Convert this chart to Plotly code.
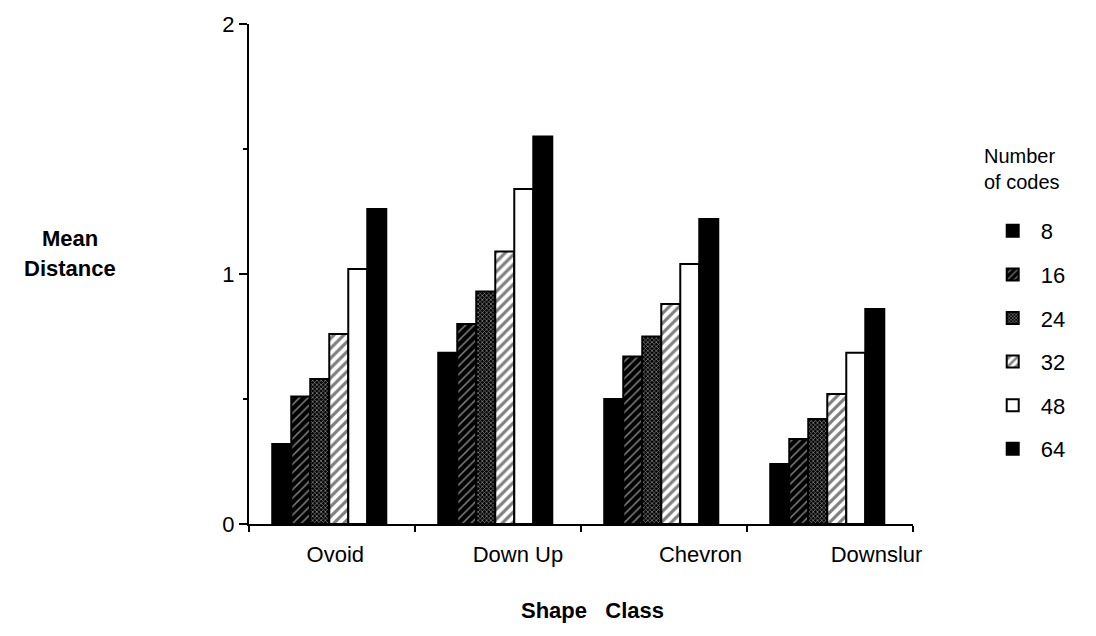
import plotly.graph_objects as go

# Mean distance by shape class and number of codes
categories = ["Ovoid", "Down Up", "Chevron", "Downslur"]
codes = ["8", "16", "24", "32", "48", "64"]
dist_8 = [0.32, 0.685, 0.50, 0.24]
dist_16 = [0.51, 0.80, 0.67, 0.34]
dist_24 = [0.58, 0.93, 0.75, 0.42]
dist_32 = [0.76, 1.09, 0.88, 0.52]
dist_48 = [1.02, 1.34, 1.04, 0.685]
dist_64 = [1.26, 1.55, 1.22, 0.86]
series = [dist_8, dist_16, dist_24, dist_32, dist_48, dist_64]

FONT = "Liberation Sans, Arial, Helvetica, sans-serif"
FS = 22

# fill style per series: (marker colour, pattern dict or None)
styles = [
    ("black", None),
    ("black", dict(shape="/", bgcolor="black", fgcolor="white", size=6, solidity=0.25)),
    ("black", dict(shape="x", bgcolor="black", fgcolor="white", size=3, solidity=0.45)),
    ("white", dict(shape="/", bgcolor="white", fgcolor="black", size=7, solidity=0.45)),
    ("white", None),
    ("black", None),
]

slot_left = 0.14   # gap from category boundary to first bar
bar_w = 0.1145     # width of one bar in category units

fig = go.Figure()
for i, (code, vals) in enumerate(zip(codes, series)):
    color, pattern = styles[i]
    xs = [g + slot_left + (i + 0.5) * bar_w for g in range(len(categories))]
    marker = dict(color=color, line=dict(color="black", width=2))
    if pattern is not None:
        marker["pattern"] = pattern
    fig.add_trace(go.Bar(
        x=xs, y=vals, width=bar_w, name=code, marker=marker,
        legendgroup=code,
    ))

label_pos = [0.52, 1.62, 2.72, 3.78]

fig.update_layout(
    width=1096, height=636,
    margin=dict(l=249, r=183, t=16, b=112),
    paper_bgcolor="white", plot_bgcolor="white",
    barmode="overlay",
    font=dict(family=FONT, size=FS, color="black"),
    showlegend=True,
    legend=dict(
        x=1.108, y=0.628, xanchor="left", yanchor="top",
        font=dict(size=FS),
        tracegroupgap=12,
        itemwidth=46,
    ),
    xaxis=dict(
        range=[0, 4], showgrid=False, zeroline=False,
        showline=True, linecolor="black", linewidth=2,
        tickvals=label_pos, ticktext=categories,
        ticks="outside", ticklen=10, tickcolor="rgba(0,0,0,0)",
        tickfont=dict(size=FS),
        minor=dict(tickvals=[0, 1, 2, 3, 4], ticks="outside", ticklen=6,
                   tickwidth=2, tickcolor="black"),
    ),
    yaxis=dict(
        range=[0, 2], showgrid=False, zeroline=False,
        showline=True, linecolor="black", linewidth=2,
        tickvals=[0, 1, 2], ticktext=["0", "1", "2"],
        ticks="outside", ticklen=8, tickwidth=2, tickcolor="black",
        tickfont=dict(size=FS),
        minor=dict(tickvals=[0.5, 1.5], ticks="outside", ticklen=4,
                   tickwidth=2, tickcolor="black"),
    ),
    annotations=[
        # legend heading
        dict(text="Number<br>of codes", xref="paper", yref="paper",
             x=1.104, y=0.711, xanchor="left", yanchor="middle",
             align="left", showarrow=False, font=dict(size=20, family=FONT)),
        dict(text="<b>Mean</b>", xref="paper", yref="paper",
             x=-0.27, y=0.571, xanchor="center", yanchor="middle",
             showarrow=False, font=dict(size=22, family=FONT)),
        dict(text="<b>Distance</b>", xref="paper", yref="paper",
             x=-0.27, y=0.512, xanchor="center", yanchor="middle",
             showarrow=False, font=dict(size=22, family=FONT)),
        dict(text="<b>Shape   Class</b>", xref="paper", yref="paper",
             x=0.517, y=-0.173, xanchor="center", yanchor="middle",
             showarrow=False, font=dict(size=22, family=FONT)),
    ],
)

fig.write_html("out.html")
